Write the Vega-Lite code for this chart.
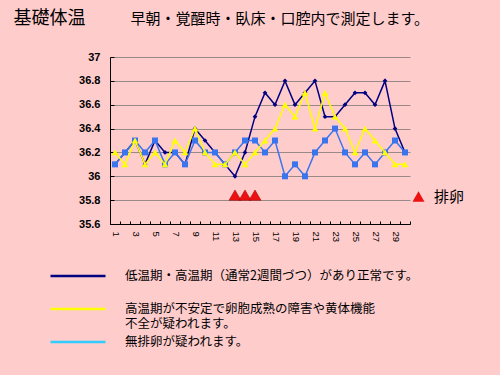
{
  "$schema": "https://vega.github.io/schema/vega-lite/v6.json",
  "width": 300,
  "height": 167,
  "autosize": {"type": "none"},
  "padding": {"left": 110, "top": 57, "right": 90, "bottom": 151},
  "background": "#FFCCCC",
  "config": {"view": {"stroke": null}, "font": "Noto Sans CJK JP"},
  "datasets": {
    "bbt": [
      {"day": 1, "正常": 36.1, "黄体機能不全": 36.2, "無排卵": 36.1},
      {"day": 2, "正常": 36.2, "黄体機能不全": 36.1, "無排卵": 36.2},
      {"day": 3, "正常": 36.3, "黄体機能不全": 36.3, "無排卵": 36.3},
      {"day": 4, "正常": 36.1, "黄体機能不全": 36.1, "無排卵": 36.2},
      {"day": 5, "正常": 36.3, "黄体機能不全": 36.2, "無排卵": 36.3},
      {"day": 6, "正常": 36.2, "黄体機能不全": 36.1, "無排卵": 36.1},
      {"day": 7, "正常": 36.2, "黄体機能不全": 36.3, "無排卵": 36.2},
      {"day": 8, "正常": 36.1, "黄体機能不全": 36.2, "無排卵": 36.1},
      {"day": 9, "正常": 36.4, "黄体機能不全": 36.4, "無排卵": 36.3},
      {"day": 10, "正常": 36.3, "黄体機能不全": 36.2, "無排卵": 36.2},
      {"day": 11, "正常": 36.2, "黄体機能不全": 36.1, "無排卵": 36.2},
      {"day": 12, "正常": 36.1, "黄体機能不全": 36.1, "無排卵": 36.1},
      {"day": 13, "正常": 36.0, "黄体機能不全": 36.2, "無排卵": 36.2},
      {"day": 14, "正常": 36.2, "黄体機能不全": 36.1, "無排卵": 36.3},
      {"day": 15, "正常": 36.5, "黄体機能不全": 36.2, "無排卵": 36.3},
      {"day": 16, "正常": 36.7, "黄体機能不全": 36.3, "無排卵": 36.2},
      {"day": 17, "正常": 36.6, "黄体機能不全": 36.4, "無排卵": 36.3},
      {"day": 18, "正常": 36.8, "黄体機能不全": 36.6, "無排卵": 36.0},
      {"day": 19, "正常": 36.6, "黄体機能不全": 36.5, "無排卵": 36.1},
      {"day": 20, "正常": 36.7, "黄体機能不全": 36.7, "無排卵": 36.0},
      {"day": 21, "正常": 36.8, "黄体機能不全": 36.4, "無排卵": 36.2},
      {"day": 22, "正常": 36.5, "黄体機能不全": 36.7, "無排卵": 36.3},
      {"day": 23, "正常": 36.5, "黄体機能不全": 36.5, "無排卵": 36.4},
      {"day": 24, "正常": 36.6, "黄体機能不全": 36.4, "無排卵": 36.2},
      {"day": 25, "正常": 36.7, "黄体機能不全": 36.2, "無排卵": 36.1},
      {"day": 26, "正常": 36.7, "黄体機能不全": 36.4, "無排卵": 36.2},
      {"day": 27, "正常": 36.6, "黄体機能不全": 36.3, "無排卵": 36.1},
      {"day": 28, "正常": 36.8, "黄体機能不全": 36.2, "無排卵": 36.2},
      {"day": 29, "正常": 36.4, "黄体機能不全": 36.1, "無排卵": 36.3},
      {"day": 30, "正常": 36.2, "黄体機能不全": 36.1, "無排卵": 36.2}
    ],
    "ovulation": [
      {"day": 13, "event": "排卵", "temp": 35.8},
      {"day": 14, "event": "排卵", "temp": 35.8},
      {"day": 15, "event": "排卵", "temp": 35.8}
    ]
  },
  "layer": [
    {
      "data": {"name": "bbt"},
      "mark": {"type": "line", "strokeWidth": 1.5, "point": {"shape": "diamond", "size": 22, "filled": true}},
      "encoding": {
        "x": {
          "field": "day", "type": "ordinal",
          "scale": {"paddingInner": 0, "paddingOuter": 0},
          "axis": {
            "title": "早朝・覚醒時・臥床・口腔内で測定します。", "titleX": 20, "titleY": -206,
            "titleAlign": "left", "titleBaseline": "middle", "titleAngle": 0,
            "titleFont": "Noto Sans CJK JP", "titleFontSize": 15, "titleFontWeight": "normal", "titleColor": "#000000",
            "labelAngle": 90, "labelAlign": "left", "labelBaseline": "middle",
            "labelFont": "Liberation Sans", "labelFontSize": 9.5, "labelColor": "#000000",
            "labelExpr": "datum.value % 2 == 1 ? datum.label : ''", "labelOverlap": false,
            "labelPadding": 10, "tickBand": "extent", "tickSize": -3, "tickColor": "#000000",
            "domainColor": "#000000", "grid": false
          }
        },
        "y": {
          "field": "正常", "type": "quantitative",
          "scale": {"domain": [35.6, 37], "zero": false, "nice": false},
          "axis": {
            "title": "基礎体温", "titleAngle": 0, "titleX": -97, "titleY": -39, "titleAlign": "left",
            "titleBaseline": "middle", "titleFont": "Noto Sans CJK JP", "titleFontSize": 18,
            "titleFontWeight": "normal", "titleColor": "#000000",
            "values": [35.6, 35.8, 36, 36.2, 36.4, 36.6, 36.8, 37], "tickCount": 8, "format": "~f",
            "labelFont": "Liberation Sans", "labelFontSize": 11, "labelFontWeight": "bold", "labelOverlap": false,
            "labelColor": "#000000", "labelPadding": 14, "tickSize": -4, "tickColor": "#000000",
            "domainColor": "#000000", "grid": true, "gridColor": "#998888"
          }
        },
        "color": {
          "datum": "正常", "type": "nominal",
          "scale": {"domain": ["正常", "黄体機能不全", "無排卵"], "range": ["#000080", "#FFFF00", "#33CCFF"]},
          "legend": {
            "orient": "none", "legendX": -39, "legendY": 212, "title": null,
            "symbolType": "M-5,0H5", "symbolSize": 121, "symbolStrokeWidth": 2.5,
            "labelOffset": 40, "labelFont": "Noto Sans CJK JP", "labelFontSize": 12.5, "labelLineHeight": 17,
            "labelColor": "#000000", "labelLimit": 0, "rowPadding": 5, "gridAlign": "all", "padding": 0,
            "labelExpr": "datum.value == '正常' ? '低温期・高温期（通常2週間づつ）があり正常です。' : datum.value == '黄体機能不全' ? ['高温期が不安定で卵胞成熟の障害や黄体機能', '不全が疑われます。'] : '無排卵が疑われます。'"
          }
        }
      }
    },
    {
      "data": {"name": "bbt"},
      "mark": {"type": "line", "strokeWidth": 1.5, "color": "#3A75EE", "point": {"shape": "square", "size": 36, "filled": true, "color": "#3A75EE"}},
      "encoding": {
        "x": {"field": "day", "type": "ordinal"},
        "y": {"field": "無排卵", "type": "quantitative"}
      }
    },
    {
      "data": {"name": "bbt"},
      "mark": {"type": "line", "strokeWidth": 1.5, "point": {"shape": "triangle-up", "size": 45, "filled": true}},
      "encoding": {
        "x": {"field": "day", "type": "ordinal"},
        "y": {"field": "黄体機能不全", "type": "quantitative"},
        "color": {"datum": "黄体機能不全", "type": "nominal"}
      }
    },
    {
      "data": {"name": "ovulation"},
      "mark": {"type": "point", "filled": true, "color": "#EE1111", "size": 144, "yOffset": -5, "stroke": "#990000", "strokeWidth": 0.5, "opacity": 1},
      "encoding": {
        "x": {"field": "day", "type": "ordinal"},
        "y": {"field": "temp", "type": "quantitative"},
        "shape": {
          "field": "event", "type": "nominal",
          "scale": {"range": ["triangle-up"]},
          "legend": {
            "orient": "none", "legendX": 301, "legendY": 132, "title": null, "padding": 0,
            "labelOffset": 8, "labelFont": "Noto Sans CJK JP", "labelFontSize": 15, "labelColor": "#000000",
            "symbolSize": 144, "symbolFillColor": "#EE1111", "symbolStrokeColor": "#990000", "symbolStrokeWidth": 0.5, "symbolOpacity": 1
          }
        }
      }
    }
  ],
  "resolve": {"axis": {"y": "shared"}}
}
